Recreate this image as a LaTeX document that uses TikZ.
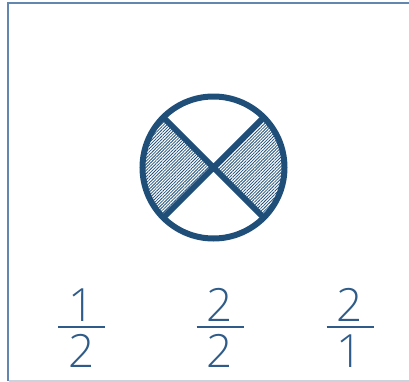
\documentclass[tikz,border=0pt]{standalone}
\usepackage{fontspec}
\setmainfont{Open Sans}[UprightFont=* Light]
\usetikzlibrary{patterns.meta}
\definecolor{dblue}{HTML}{1F4E79}
\definecolor{fblue}{HTML}{2F5B88}
\definecolor{frameblue}{HTML}{6286AE}
\definecolor{framegrey}{HTML}{CBD3DC}
\tikzset{
  digit/.style={font=\fontsize{46}{46}\selectfont, text=fblue, inner sep=0pt, anchor=base},
  fracbar/.style={draw=fblue, line width=1.6bp},
  hatch/.style={pattern={Lines[angle=45,distance=2.2bp,line width=0.8bp]}, pattern color=dblue},
}
\begin{document}
\begin{tikzpicture}[x=1bp,y=-1bp]
\useasboundingbox (0,0) rectangle (409,382);
% frame
\draw[frameblue, line width=2bp] (8,381) -- (8,3) -- (409,3);
\draw[framegrey, line width=1.5bp] (9,381.2) -- (409,381.2);
% circle
\coordinate (c) at (213.5,167.5);
\fill[hatch] (c) -- ++(135:71) arc[start angle=135,end angle=225,radius=71] -- cycle;
\fill[hatch] (c) -- ++(-45:71) arc[start angle=-45,end angle=45,radius=71] -- cycle;
\draw[dblue, line width=6bp] (c) circle[radius=71];
\path (c) ++(45:71) coordinate (p1) (c) ++(225:71) coordinate (p2)
  (c) ++(135:71) coordinate (p3) (c) ++(-45:71) coordinate (p4);
\draw[dblue, line width=6bp] (p1) -- (p2) (p3) -- (p4);
% fractions
\node[digit] (n1) at (81.7,321) {1};
\node[digit] (d1) at (81.7,367) {2};
\draw[fracbar] (58.2,327) coordinate (b1l) -- (105.2,327) coordinate (b1r);
\node[digit] (n2) at (220,321) {2};
\node[digit] (d2) at (220,367) {2};
\draw[fracbar] (196.5,327) coordinate (b2l) -- (243.5,327) coordinate (b2r);
\node[digit] (n3) at (350,321) {2};
\node[digit] (d3) at (350,367) {1};
\draw[fracbar] (326.5,327) coordinate (b3l) -- (373.5,327) coordinate (b3r);
\end{tikzpicture}
\end{document}
